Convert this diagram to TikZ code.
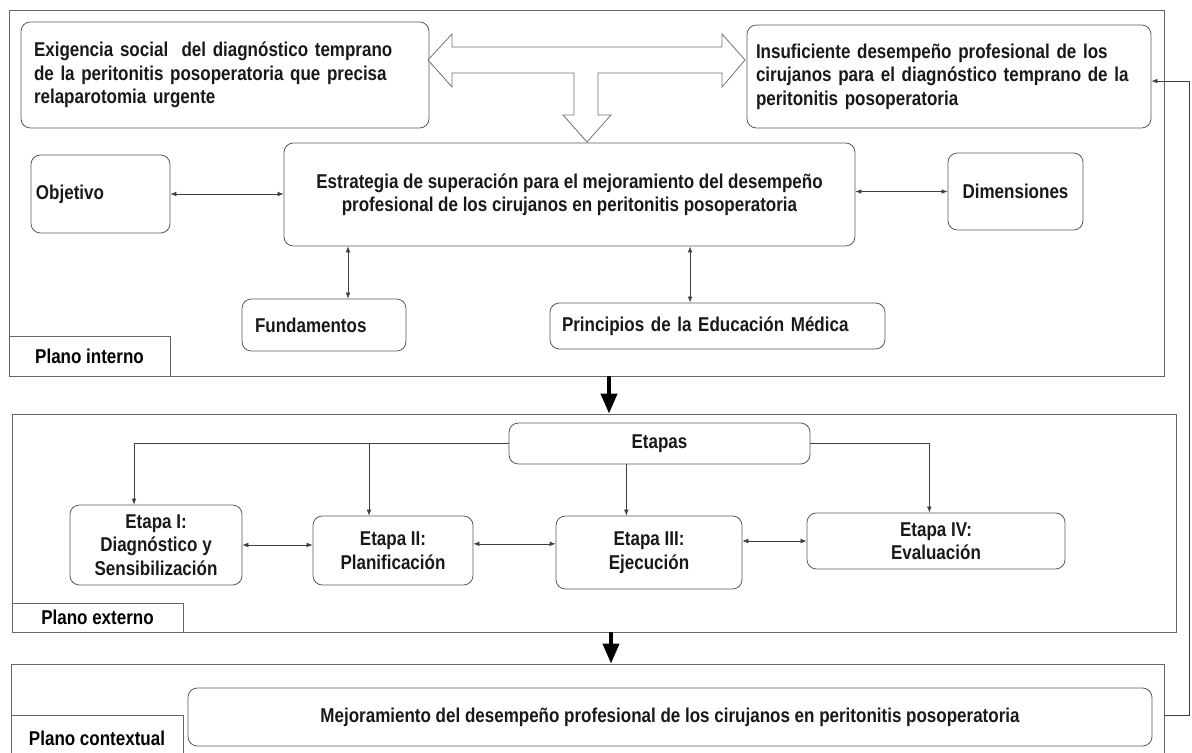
\documentclass[tikz,border=0pt]{standalone}
\usepackage{fontspec}
\setmainfont{Liberation Sans}[FakeStretch=0.85]
\usetikzlibrary{arrows.meta}

\tikzset{
	caja/.style={draw=black!65, line width=0.6pt, rounded corners=7pt, inner sep=0pt, align=center, text=black!90},
	marco/.style={draw=black!60, line width=0.6pt, inner sep=0pt},
	pestana/.style={draw=black!60, line width=0.6pt, fill=white, inner sep=0pt, align=center, anchor=south west},
	dflecha/.style={draw=black!75, line width=0.5pt, {Latex[length=4.5pt,width=3.5pt]}-{Latex[length=4.5pt,width=3.5pt]}},
	flecha/.style={draw=black!75, line width=0.5pt, -{Latex[length=4.5pt,width=3.5pt]}},
	gruesa/.style={draw=black, line width=3pt, -{Triangle[length=15pt,width=12pt]}},
}

\begin{document}
\begin{tikzpicture}[x=0.75pt,y=0.75pt,yscale=-1,font=\bfseries\fontsize{15}{17.6}\selectfont]
			\useasboundingbox (0,0) rectangle (1192,753);
			
			%Shape: Rectangle [planos]
			\node[marco, minimum width=866.25pt, minimum height=274.5pt] (pInt) at (586.5,193) {};
			\node[marco, minimum width=873pt, minimum height=163.5pt] (pExt) at (594,523) {};
			\node[marco, minimum width=864.75pt, minimum height=73.5pt] (pCtx) at (587.5,713) {};
			
			% Text Node
			\node[pestana, minimum width=120.75pt, minimum height=30pt] (tInt) at (pInt.south west) {Plano interno};
			\node[pestana, minimum width=128.25pt, minimum height=21.75pt] (tExt) at (pExt.south west) {Plano externo};
			\node[pestana, minimum width=129pt, minimum height=35.25pt] (tCtx) at (pCtx.south west) {Plano contextual};
			
			%Shape: Rounded Rect [plano interno]
			\node[caja, minimum width=306pt, minimum height=79.5pt, text width=286.5pt, align=left] (exig) at (225,75) {Exigencia social~ del diagnóstico temprano\\de la peritonitis posoperatoria que precisa\\relaparotomia urgente};
			\node[caja, minimum width=303pt, minimum height=77.25pt, text width=289.5pt, align=left] (insuf) at (949,76.5) {Insuficiente desempeño profesional de los\\cirujanos para el diagnóstico temprano de la\\peritonitis posoperatoria};
			\node[caja, minimum width=104.25pt, minimum height=58.5pt, text width=96.75pt, align=left] (obj) at (100.5,194) {Objetivo};
			\node[caja, minimum width=428.25pt, minimum height=77.25pt] (estr) at (569.5,194.5) {Estrategia de superación para el mejoramiento del desempeño\\profesional de los cirujanos en peritonitis posoperatoria};
			\node[caja, minimum width=101.25pt, minimum height=57.75pt] (dim) at (1015.5,191.5) {Dimensiones};
			\node[caja, minimum width=123pt, minimum height=39pt, text width=103.5pt, align=left] (fund) at (324,325) {Fundamentos};
			\node[caja, minimum width=251.25pt, minimum height=34.5pt, text width=233.25pt, align=left] (princ) at (717.5,326) {Principios de la Educación Médica};
			
			%Shape: Rounded Rect [plano externo]
			\node[caja, minimum width=225.75pt, minimum height=30.75pt] (etapas) at (659.5,443.5) {Etapas};
			\node[caja, minimum width=129pt, minimum height=60pt] (e1) at (156,545) {Etapa I:\\Diagnóstico y\\Sensibilización};
			\node[caja, minimum width=120pt, minimum height=51.75pt] (e2) at (393,550.5) {Etapa II:\\Planificación};
			\node[caja, minimum width=139.5pt, minimum height=54.75pt] (e3) at (649,552.5) {Etapa III:\\Ejecución};
			\node[caja, minimum width=193.5pt, minimum height=42pt] (e4) at (936,541) {Etapa IV:\\Evaluación};
			
			%Shape: Rounded Rect [plano contextual]
			\node[caja, minimum width=723pt, minimum height=43.5pt] (mejor) at (670,717) {Mejoramiento del desempeño profesional de los cirujanos en peritonitis posoperatoria};
			
			%Shape: Hollow T Arrow
			\draw[draw=black!55, line width=0.6pt, fill=white] (428,60) -- (452,34) -- (452,47) -- (722,47) -- (722,34) -- (745,60) -- (722,87) -- (722,73) -- (598,73) -- (598,115) -- (611,115) -- (587,142) -- (563,115) -- (574,115) -- (574,73) -- (452,73) -- (452,87) -- cycle;
			
			%Straight Lines [plano interno]
			\draw[dflecha] (obj.east) -- (obj.east -| estr.west);
			\draw[dflecha] (estr.east |- dim.west) -- (dim.west);
			\draw[dflecha] ([xshift=18pt]fund.north |- estr.south) -- ([xshift=18pt]fund.north);
			\draw[dflecha] ([xshift=-20.6pt]princ.north |- estr.south) -- ([xshift=-20.6pt]princ.north);
			
			%Straight Lines [etapas]
			\draw[flecha] (etapas.west) -| ([xshift=-16.5pt]e1.north);
			\draw[flecha] ([xshift=-18pt]e2.north |- etapas.west) -- ([xshift=-18pt]e2.north);
			\draw[flecha] ([xshift=-17pt]e3.north |- etapas.south) -- ([xshift=-17pt]e3.north);
			\draw[flecha] (etapas.east) -| ([xshift=-5pt]e4.north);
			\draw[dflecha] (e1.east) -- (e1.east -| e2.west);
			\draw[dflecha] ([yshift=-5pt]e2.east) -- ([yshift=-5pt]e2.east -| e3.west);
			\draw[dflecha] (e4.west -| e3.east) -- (e4.west);
			
			%Straight Lines [entre planos]
			\draw[gruesa] (pInt.south -| 609,0) -- (pExt.north -| 609,0);
			\draw[gruesa] (pExt.south -| 611,0) -- (pCtx.north -| 611,0);
			\draw[flecha] (pCtx.east |- 0,715) -- (1189,715) |- ([yshift=3.4pt]insuf.east);
			
\end{tikzpicture}
\end{document}
